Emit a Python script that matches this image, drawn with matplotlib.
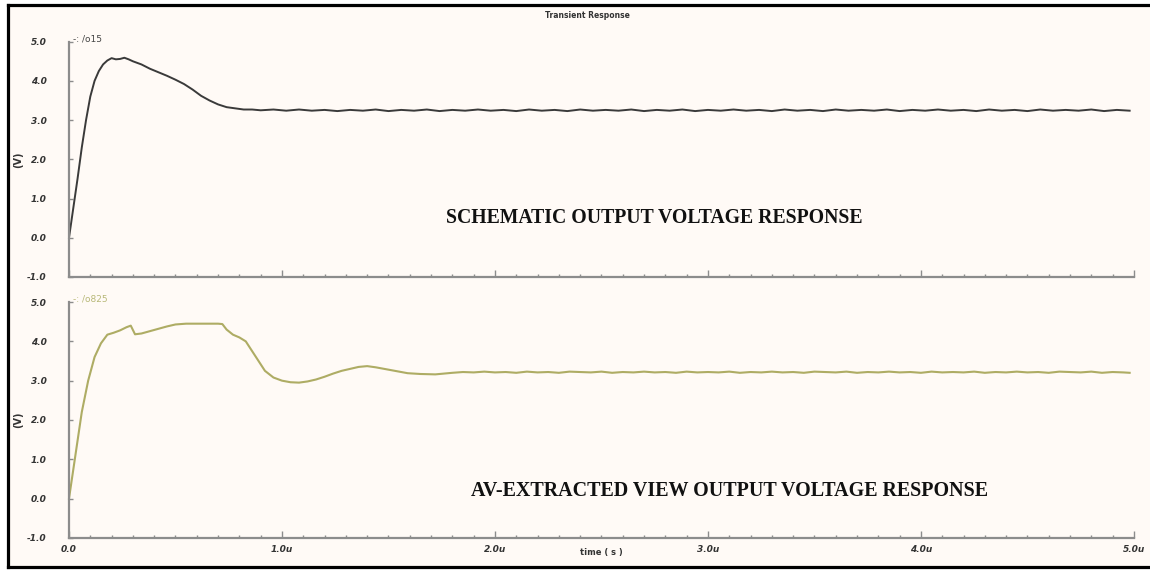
#!/usr/bin/env python3

import matplotlib
matplotlib.use("Agg")
import matplotlib.pyplot as plt
from matplotlib.lines import Line2D
from matplotlib.patches import Rectangle
from matplotlib.ticker import FixedLocator, FixedFormatter, MultipleLocator

################################################################################
# Data (time in microseconds, voltage in V)
################################################################################

schematic_t = [
    0.00, 0.02, 0.04, 0.06, 0.08, 0.10, 0.12, 0.14, 0.16, 0.18,
    0.20, 0.22, 0.24, 0.26, 0.28, 0.30, 0.34, 0.38, 0.42, 0.46,
    0.50, 0.54, 0.58, 0.62, 0.66, 0.70, 0.74, 0.78, 0.82, 0.86,
    0.90, 0.96, 1.02, 1.08, 1.14, 1.20, 1.26, 1.32, 1.38, 1.44,
    1.50, 1.56, 1.62, 1.68, 1.74, 1.80, 1.86, 1.92, 1.98, 2.04,
    2.10, 2.16, 2.22, 2.28, 2.34, 2.40, 2.46, 2.52, 2.58, 2.64,
    2.70, 2.76, 2.82, 2.88, 2.94, 3.00, 3.06, 3.12, 3.18, 3.24,
    3.30, 3.36, 3.42, 3.48, 3.54, 3.60, 3.66, 3.72, 3.78, 3.84,
    3.90, 3.96, 4.02, 4.08, 4.14, 4.20, 4.26, 4.32, 4.38, 4.44,
    4.50, 4.56, 4.62, 4.68, 4.74, 4.80, 4.86, 4.92, 4.98,
]
schematic_v = [
    0.00, 0.75, 1.50, 2.30, 3.00, 3.60, 4.00, 4.25, 4.42, 4.52,
    4.58, 4.55, 4.56, 4.59, 4.55, 4.50, 4.42, 4.31, 4.22, 4.13,
    4.03, 3.92, 3.78, 3.62, 3.50, 3.40, 3.33, 3.30, 3.27, 3.27,
    3.25, 3.27, 3.24, 3.27, 3.24, 3.26, 3.23, 3.26, 3.24, 3.27,
    3.23, 3.26, 3.24, 3.27, 3.23, 3.26, 3.24, 3.27, 3.24, 3.26,
    3.23, 3.27, 3.24, 3.26, 3.23, 3.27, 3.24, 3.26, 3.24, 3.27,
    3.23, 3.26, 3.24, 3.27, 3.23, 3.26, 3.24, 3.27, 3.24, 3.26,
    3.23, 3.27, 3.24, 3.26, 3.23, 3.27, 3.24, 3.26, 3.24, 3.27,
    3.23, 3.26, 3.24, 3.27, 3.24, 3.26, 3.23, 3.27, 3.24, 3.26,
    3.23, 3.27, 3.24, 3.26, 3.24, 3.27, 3.23, 3.26, 3.24,
]

extracted_t = [
    0.00, 0.03, 0.06, 0.09, 0.12, 0.15, 0.18, 0.21, 0.24, 0.27,
    0.29, 0.31, 0.34, 0.38, 0.42, 0.46, 0.50, 0.55, 0.60, 0.65,
    0.70, 0.72, 0.74, 0.77, 0.80, 0.83, 0.86, 0.89, 0.92, 0.96,
    1.00, 1.04, 1.08, 1.12, 1.16, 1.20, 1.24, 1.28, 1.32, 1.36,
    1.40, 1.44, 1.49, 1.54, 1.59, 1.65, 1.72, 1.80, 1.85, 1.90,
    1.95, 2.00, 2.05, 2.10, 2.15, 2.20, 2.25, 2.30, 2.35, 2.40,
    2.45, 2.50, 2.55, 2.60, 2.65, 2.70, 2.75, 2.80, 2.85, 2.90,
    2.95, 3.00, 3.05, 3.10, 3.15, 3.20, 3.25, 3.30, 3.35, 3.40,
    3.45, 3.50, 3.55, 3.60, 3.65, 3.70, 3.75, 3.80, 3.85, 3.90,
    3.95, 4.00, 4.05, 4.10, 4.15, 4.20, 4.25, 4.30, 4.35, 4.40,
    4.45, 4.50, 4.55, 4.60, 4.65, 4.70, 4.75, 4.80, 4.85, 4.90,
    4.95, 4.98,
]
extracted_v = [
    0.00, 1.10, 2.20, 3.00, 3.60, 3.95, 4.17, 4.22, 4.28, 4.36,
    4.40, 4.18, 4.20, 4.26, 4.32, 4.38, 4.43, 4.45, 4.45, 4.45,
    4.45, 4.44, 4.30, 4.17, 4.10, 4.00, 3.75, 3.50, 3.25, 3.08,
    3.00, 2.96, 2.95, 2.98, 3.03, 3.10, 3.18, 3.25, 3.30, 3.35,
    3.37, 3.34, 3.29, 3.24, 3.19, 3.17, 3.16, 3.20, 3.22, 3.21,
    3.23, 3.21, 3.22, 3.20, 3.23, 3.21, 3.22, 3.20, 3.23, 3.22,
    3.21, 3.23, 3.20, 3.22, 3.21, 3.23, 3.21, 3.22, 3.20, 3.23,
    3.21, 3.22, 3.21, 3.23, 3.20, 3.22, 3.21, 3.23, 3.21, 3.22,
    3.20, 3.23, 3.22, 3.21, 3.23, 3.20, 3.22, 3.21, 3.23, 3.21,
    3.22, 3.20, 3.23, 3.21, 3.22, 3.21, 3.23, 3.20, 3.22, 3.21,
    3.23, 3.21, 3.22, 3.20, 3.23, 3.22, 3.21, 3.23, 3.20, 3.22,
    3.21, 3.20,
]

y_ticks = [5.0, 4.0, 3.0, 2.0, 1.0, 0.0, -1.0]
y_tick_labels = ["5.0", "4.0", "3.0", "2.0", "1.0", "0.0", "-1.0"]
x_ticks = [0.0, 1.0, 2.0, 3.0, 4.0, 5.0]
x_tick_labels = ["0.0", "1.0u", "2.0u", "3.0u", "4.0u", "5.0u"]

################################################################################
# Helpers
################################################################################

BG = "#fffaf6"
AXIS_GRAY = "#8c8c8c"


def style_axes(ax, show_xlabels):
    ax.patch.set_alpha(0)
    ax.set_xlim(0, 5.0)
    ax.set_ylim(-1.0, 5.0)
    for side in ("top", "right"):
        ax.spines[side].set_visible(False)
    for side in ("left", "bottom"):
        ax.spines[side].set_color(AXIS_GRAY)
        ax.spines[side].set_linewidth(1.6)

    ax.yaxis.set_major_locator(FixedLocator(y_ticks))
    ax.yaxis.set_major_formatter(FixedFormatter(y_tick_labels))
    ax.xaxis.set_major_locator(FixedLocator(x_ticks))
    ax.xaxis.set_minor_locator(MultipleLocator(0.1))
    if show_xlabels:
        ax.xaxis.set_major_formatter(FixedFormatter(x_tick_labels))
    else:
        ax.set_xticklabels([])

    ax.tick_params(axis="y", which="major", direction="in", length=3,
                   width=1, color=AXIS_GRAY, pad=16, labelsize=6.5,
                   labelcolor="#333333")
    ax.tick_params(axis="x", which="major", direction="in", length=5,
                   width=1, color=AXIS_GRAY, pad=5, labelsize=6.5,
                   labelcolor="#333333")
    ax.tick_params(axis="x", which="minor", direction="in", length=2.5,
                   width=1, color=AXIS_GRAY)
    for lbl in ax.get_xticklabels() + ax.get_yticklabels():
        lbl.set_fontweight("bold")
        lbl.set_fontstyle("italic")

    ax.set_ylabel("(V)", fontsize=7, fontweight="bold", color="#333333",
                  labelpad=3)


################################################################################
# Main
################################################################################

def main():
    fig = plt.figure(figsize=(11.5, 5.71), dpi=100)
    fig.patch.set_facecolor("white")

    # plot window background, with a black frame on left, top and bottom
    x0, y0, y1 = 7.5 / 1150, 4.5 / 571, 566.5 / 571
    fig.patches.append(Rectangle((x0, y0), 1.0, y1 - y0,
                                 transform=fig.transFigure, facecolor=BG,
                                 edgecolor="none", zorder=-5))
    for xs, ys in (([x0, 1.0], [y1, y1]), ([x0, x0], [y0, y1]),
                   ([x0, 1.0], [y0, y0])):
        fig.add_artist(Line2D(xs, ys, transform=fig.transFigure,
                              color="black", linewidth=2.3,
                              solid_capstyle="projecting"))

    ax_top = fig.add_axes([0.06, 0.515, 0.926, 0.412])
    ax_bot = fig.add_axes([0.06, 0.058, 0.926, 0.413])

    style_axes(ax_top, show_xlabels=False)
    style_axes(ax_bot, show_xlabels=True)

    ax_top.plot(schematic_t, schematic_v, color="#3a3a3a", linewidth=1.4,
                clip_on=False)
    ax_bot.plot(extracted_t, extracted_v, color="#aeac64", linewidth=1.5,
                clip_on=False)

    # trace names
    ax_top.text(0.004, 1.013, "-: /o15", transform=ax_top.transAxes,
                fontsize=6.5, color="#444444", va="center", ha="left")
    ax_bot.text(0.004, 1.013, "-: /o825", transform=ax_bot.transAxes,
                fontsize=6.5, color="#b8b878", va="center", ha="left")

    # captions
    ax_top.text(0.55, 0.252, "SCHEMATIC OUTPUT VOLTAGE RESPONSE",
                transform=ax_top.transAxes, ha="center", va="center",
                family="Liberation Serif", fontweight="bold", fontsize=14.2,
                color="#111111")
    ax_bot.text(0.62, 0.20, "AV-EXTRACTED VIEW OUTPUT VOLTAGE RESPONSE",
                transform=ax_bot.transAxes, ha="center", va="center",
                family="Liberation Serif", fontweight="bold", fontsize=14.4,
                color="#111111")

    fig.text(587 / 1150, 1 - 16 / 571, "Transient Response", ha="center",
             va="center", fontsize=5.5, fontweight="bold", color="#333333")
    fig.text(601 / 1150, 1 - 553 / 571, "time ( s )", ha="center",
             va="center", fontsize=6, fontweight="bold", color="#333333")

    fig.savefig("out.png", dpi=100, facecolor=fig.get_facecolor())


if __name__ == "__main__":
    main()
